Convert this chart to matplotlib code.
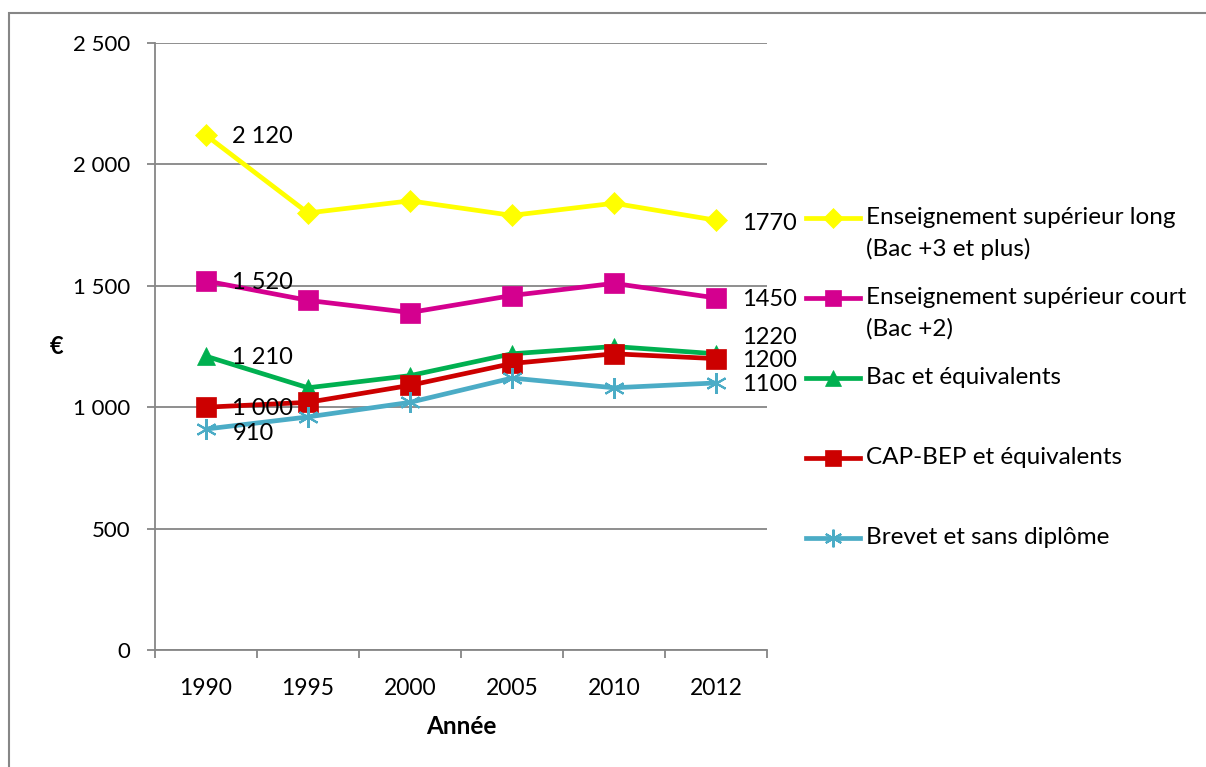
import matplotlib
matplotlib.use("Agg")
import matplotlib.pyplot as plt
from matplotlib.lines import Line2D
from matplotlib.patches import Rectangle

plt.rcParams['font.family'] = ['Lato', 'DejaVu Sans']

years = ["1990", "1995", "2000", "2005", "2010", "2012"]
sup_long = [2120, 1800, 1850, 1790, 1840, 1770]
sup_court = [1520, 1440, 1390, 1460, 1510, 1450]
bac = [1210, 1080, 1130, 1220, 1250, 1220]
cap_bep = [1000, 1020, 1090, 1180, 1220, 1200]
brevet = [910, 960, 1020, 1120, 1080, 1100]

labels = ["Enseignement supérieur long\n(Bac +3 et plus)",
          "Enseignement supérieur court\n(Bac +2)",
          "Bac et équivalents",
          "CAP-BEP et équivalents",
          "Brevet et sans diplôme"]
y_ticks = [0, 500, 1000, 1500, 2000, 2500]
y_tick_labels = ["0", "500", "1 000", "1 500", "2 000", "2 500"]

W, H = 1206, 767
fig = plt.figure(figsize=(W / 100, H / 100), dpi=100)
ax = fig.add_axes([155 / W, 1 - 650 / H, (767 - 155) / W, (650 - 43) / H])

grey = "#868686"
series = [
    (sup_long, "#FFFF00", "D", 11.5, 0),
    (sup_court, "#D4008F", "s", 14, 0),
    (bac, "#00B050", "^", 13, 0),
    (cap_bep, "#CC0000", "s", 14, 0),
    (brevet, "#4BACC6", (6, 2, 0), 15, 1.5),
]
x = list(range(len(years)))
for vals, col, mk, ms, mew in series:
    ax.plot(x, vals, color=col, lw=3.4, marker=mk, ms=ms,
            markeredgewidth=mew if mew else 0.5, markeredgecolor=col,
            markerfacecolor=col, zorder=3, solid_joinstyle='round')

def fmt(v):
    return f"{v:,}".replace(",", " ")

FS_DATA = 17
# data labels: first and last points
first_off = [0, 0, 0, 0, -2]
for (vals, *_), dy in zip(series, first_off):
    ax.annotate(fmt(vals[0]), (0, vals[0]), xytext=(19, dy - 1), textcoords='offset points',
                ha='left', va='center', fontsize=FS_DATA, zorder=4)
last_off = [-1, 0, 13, 0, 0]
for (vals, *_), dy in zip(series, last_off):
    ax.annotate(str(vals[-1]), (5, vals[-1]), xytext=(19, dy - 1), textcoords='offset points',
                ha='left', va='center', fontsize=FS_DATA, annotation_clip=False, zorder=4)

ax.set_xlim(-0.5, 5.5)
ax.set_ylim(0, 2500)
ax.set_yticks(y_ticks)
ax.set_yticklabels(y_tick_labels, fontsize=16)
ax.set_xticks(x)
ax.set_xticklabels(years, fontsize=16.5)
ax.set_xticks([i - 0.5 for i in range(len(years) + 1)], minor=True)
ax.tick_params(axis='x', which='major', length=0, pad=20)
ax.tick_params(axis='x', which='minor', length=6, width=1.3, color=grey, direction='out')
ax.tick_params(axis='y', length=6, width=1.3, color=grey, pad=12)
ax.grid(axis='y', color=grey, lw=1.3, zorder=0)
ax.set_axisbelow(True)
for s in ['top', 'right']:
    ax.spines[s].set_visible(False)
for s in ['left', 'bottom']:
    ax.spines[s].set_color(grey)
    ax.spines[s].set_linewidth(1.3)
ax.set_ylabel("€", fontsize=17, fontweight='bold', rotation=0, labelpad=0)
ax.yaxis.label.set_va('center')
ax.yaxis.set_label_coords(-(155 - 57) / (767 - 155), (650 - 347) / (650 - 43))
ax.set_xlabel("Année", fontsize=17.5, fontweight='bold')
ax.xaxis.label.set_va('center')
ax.xaxis.set_label_coords((461 - 155) / (767 - 155), -(727 - 650) / (650 - 43))

# legend drawn manually
leg_y = [218, 298, 378, 458, 538]
line_gap = 31
for (vals, col, mk, ms, mew), lab, ly in zip(series, labels, leg_y):
    yf = 1 - ly / H
    fig.add_artist(Line2D([806 / W, 860 / W], [yf, yf], color=col, lw=3.4))
    fig.add_artist(Line2D([833 / W], [yf], color=col, marker=mk, ms=ms * 0.85,
                          markeredgewidth=mew if mew else 0.5, markeredgecolor=col,
                          markerfacecolor=col, lw=0))
    for k, part in enumerate(lab.split("\n")):
        fig.text(866 / W, 1 - (ly + k * line_gap) / H, part, fontsize=17.5,
                 ha='left', va='center')

# outer frame
fig.add_artist(Rectangle((9 / W, -0.1), 1.2, 1 - 13 / H + 0.1, fill=False,
                         edgecolor=grey, lw=1.5, transform=fig.transFigure))

fig.savefig("out.png", dpi=100)
